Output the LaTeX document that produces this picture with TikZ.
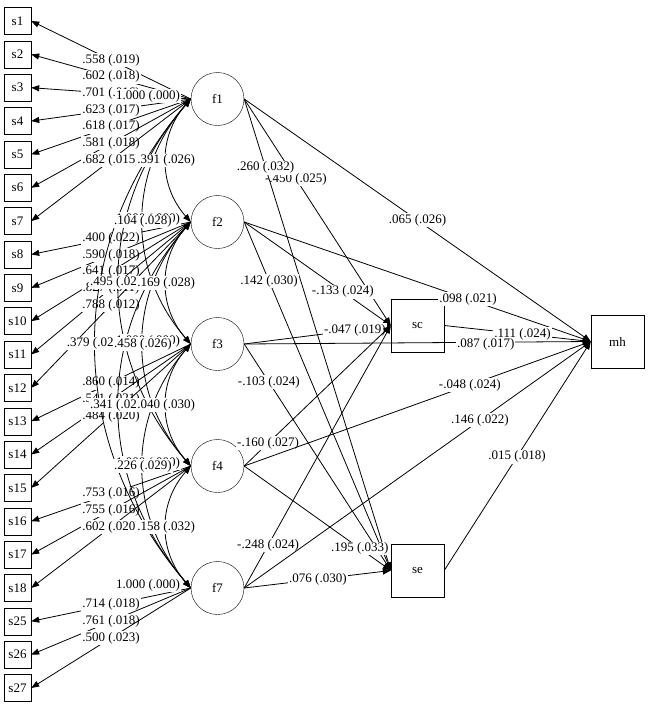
\documentclass[tikz,border=0pt]{standalone}
\usepackage{fontspec}
\setmainfont{Liberation Serif}
\usetikzlibrary{arrows.meta}
\begin{document}
\begin{tikzpicture}[x=1pt,y=-1pt,
  txt/.style={font=\fontsize{13}{15}\selectfont},
  obs/.style={txt,draw,rectangle,minimum width=27pt,minimum height=27pt,inner sep=0pt},
  big/.style={txt,draw,rectangle,minimum width=53pt,minimum height=53pt,inner sep=0pt},
  lat/.style={txt,draw,circle,minimum size=53pt,inner sep=0pt},
  lab/.style={txt,fill=white,inner sep=1pt},
  arr/.style={line width=0.8pt,-{Triangle[length=8pt,width=6pt]}},
  dbl/.style={line width=0.8pt,{Triangle[length=8pt,width=6pt]}-{Triangle[length=8pt,width=6pt]}},
]
\useasboundingbox (0,0) rectangle (656,705);
% observed indicators
\foreach \n/\k in {1/0,2/1,3/2,4/3,5/4,6/5,7/6,8/7,9/8,10/9,11/10,12/11,13/12,14/13,15/14,16/15,17/16,18/17,25/18,26/19,27/20}
  \node[obs] (s\n) at (17.5,{21+33.35*\k}) {s\n};
% latent factors
\node[lat] (f1) at (217.5,99) {f1};
\node[lat] (f2) at (217.5,222) {f2};
\node[lat] (f3) at (217.5,344) {f3};
\node[lat] (f4) at (217.5,466) {f4};
\node[lat] (f7) at (217.5,588) {f7};
% outcomes
\node[big] (sc) at (417.5,325.5) {sc};
\node[big] (se) at (417.5,570.5) {se};
\node[big] (mh) at (617.5,341.5) {mh};
% loadings
\foreach \f/\s/\t in {f1/s1/{.558 (.019)},f1/s2/{.602 (.018)},f1/s3/{.701 (.016)},f1/s4/{.623 (.017)},f1/s5/{.618 (.017)},f1/s6/{.581 (.018)},f1/s7/{.682 (.015)},
  f2/s8/{.400 (.022)},f2/s9/{.590 (.018)},f2/s10/{.641 (.017)},f2/s11/{.827 (.011)},f2/s12/{.788 (.012)},
  f3/s13/{.860 (.014)},f3/s14/{.541 (.021)},f3/s15/{.484 (.020)},
  f4/s16/{.753 (.016)},f4/s17/{.755 (.016)},f4/s18/{.602 (.020)},
  f7/s25/{.714 (.018)},f7/s26/{.761 (.018)},f7/s27/{.500 (.023)}}
  \draw[arr] (\f.west) -- (\s.east) node[lab,midway] (L\s) {\t};
% factor correlations (curves)
\draw[dbl] (f1.west) .. controls (64,246) and (64,441) .. (f7.west) coordinate[pos=0.5] (c17);
\draw[dbl] (f1.west) .. controls (95,209) and (95,356) .. (f4.west) coordinate[pos=0.5] (c14);
\draw[dbl] (f2.west) .. controls (95,332) and (95,478) .. (f7.west) coordinate[pos=0.5] (c27);
\draw[dbl] (f1.west) .. controls (127,172) and (127,271) .. (f3.west) coordinate[pos=0.5] (c13);
\draw[dbl] (f2.west) .. controls (127,295) and (127,393) .. (f4.west) coordinate[pos=0.5] (c24);
\draw[dbl] (f3.west) .. controls (127,417) and (127,515) .. (f7.west) coordinate[pos=0.5] (c37);
\draw[dbl] (f1.west) .. controls (158,136) and (158,185) .. (f2.west) coordinate[pos=0.5] (c12);
\draw[dbl] (f2.west) .. controls (158,259) and (158,307) .. (f3.west) coordinate[pos=0.5] (c23);
\draw[dbl] (f3.west) .. controls (158,381) and (158,429) .. (f4.west) coordinate[pos=0.5] (c34);
\draw[dbl] (f4.west) .. controls (158,503) and (158,551) .. (f7.west) coordinate[pos=0.5] (c47);
% variances
\node[lab] (vf1) at (148,96) {1.000 (.000)};
\node[lab] (vf2) at (148,219) {1.000 (.000)};
\node[lab] (vf3) at (148,341) {1.000 (.000)};
\node[lab] (vf4) at (148,463) {1.000 (.000)};
\node[lab] (vf7) at (148,585) {1.000 (.000)};
% correlation labels
\node[lab] (Lc17) at (c17) {.379 (.025)};
\node[lab] (Lc14) at (c14) {.495 (.024)};
\node[lab] (Lc27) at (c27) {.341 (.027)};
\node[lab] (Lc13) at (c13) {.104 (.028)};
\node[lab] (Lc24) at (c24) {.458 (.026)};
\node[lab] (Lc37) at (c37) {.226 (.029)};
\node[lab] (Lc12) at (c12) {.391 (.026)};
\node[lab] (Lc23) at (c23) {.169 (.028)};
\node[lab] (Lc34) at (c34) {.040 (.030)};
\node[lab] (Lc47) at (c47) {.158 (.032)};
% structural paths
\draw[arr] (f1.east) -- (sc.west) node[lab,pos=0.353] (Lf1sc) {-.450 (.025)};
\draw[arr] (f1.east) -- (se.west) node[lab,pos=0.146] (Lf1se) {.260 (.032)};
\draw[arr] (f1.east) -- (mh.west) node[lab,pos=0.5] (Lf1mh) {.065 (.026)};
\draw[arr] (f2.east) -- (sc.west) node[lab,pos=0.673] (Lf2sc) {-.133 (.024)};
\draw[arr] (f2.east) -- (se.west) node[lab,pos=0.17] (Lf2se) {.142 (.030)};
\draw[arr] (f2.east) -- (mh.west) node[lab,pos=0.646] (Lf2mh) {.098 (.021)};
\draw[arr] (sc.east) -- (mh.west) node[lab,pos=0.534] (Lscmh) {.111 (.024)};
\draw[arr] (f3.east) -- (sc.west) node[lab,pos=0.755] (Lf3sc) {-.047 (.019)};
\draw[arr] (f3.east) -- (se.west) node[lab,pos=0.168] (Lf3se) {-.103 (.024)};
\draw[arr] (f3.east) -- (mh.west) node[lab,pos=0.697,yshift=-2pt] (Lf3mh) {.087 (.017)};
\draw[arr] (f4.east) -- (sc.west) node[lab,pos=0.163] (Lf4sc) {-.160 (.027)};
\draw[arr] (f4.east) -- (se.west) node[lab,pos=0.789] (Lf4se) {.195 (.033)};
\draw[arr] (f4.east) -- (mh.west) node[lab,pos=0.651] (Lf4mh) {-.048 (.024)};
\draw[arr] (f7.east) -- (sc.west) node[lab,pos=0.163] (Lf7sc) {-.248 (.024)};
\draw[arr] (f7.east) -- (se.west) node[lab,pos=0.503] (Lf7se) {.076 (.030)};
\draw[arr] (f7.east) -- (mh.west) node[lab,pos=0.68] (Lf7mh) {.146 (.022)};
\draw[arr] (se.east) -- (mh.west) node[lab,pos=0.497] (Lsemh) {.015 (.018)};
\end{tikzpicture}
\end{document}
